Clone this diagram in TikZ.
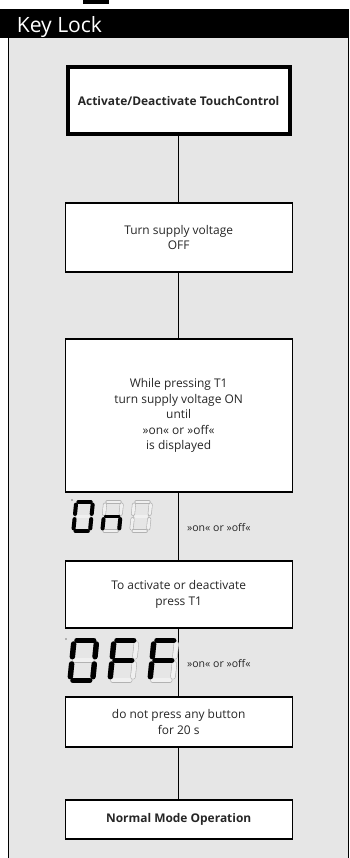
\documentclass[tikz,border=0pt]{standalone}
\usepackage{fontspec}
\setmainfont{Open Sans}
\definecolor{panel}{HTML}{E6E6E6}

% segments of one seven-segment digit, unit box
\newcommand{\segA}{(0.13,1)--(0.87,1)}
\newcommand{\segB}{(1,0.91)--(1,0.59)}
\newcommand{\segC}{(1,0.41)--(1,0.09)}
\newcommand{\segD}{(0.13,0)--(0.87,0)}
\newcommand{\segE}{(0,0.41)--(0,0.09)}
\newcommand{\segF}{(0,0.91)--(0,0.59)}
\newcommand{\segG}{(0.13,0.5)--(0.87,0.5)}
\newcommand{\segN}{(0,0)}

\tikzset{
  seg width/.store in=\segwd, seg width=3pt,
  seg inner/.store in=\seginner, seg inner=2.2pt,
  litseg/.style={line width=\segwd, line cap=round},
  ghostseg/.style={draw=black!30, line width=0.5pt, double=panel!60!white, double distance=\seginner, line cap=round},
  smalldigit/.style={x=0.5cm, y=0.87cm, xslant=0.1, seg width=3.4pt, seg inner=2.4pt},
  bigdigit/.style={x=0.68cm, y=1.2cm, xslant=0.1, seg width=4.6pt, seg inner=3.6pt},
}

\newcommand{\segdigit}[2]{%
  \begin{scope}[#1]
    \foreach \sg in {A,B,C,D,E,F,G} {\draw[ghostseg] \csname seg\sg\endcsname;}
    \foreach \sg in {#2} {\draw[litseg] \csname seg\sg\endcsname;}
  \end{scope}}

\begin{document}
\begin{tikzpicture}[
    stepbox/.style={draw, line width=1pt, fill=white, minimum width=6.81cm, align=center,
      text=black!85, font=\fontsize{10.2}{13.2}\selectfont},
    boldbox/.style={stepbox, font=\fontsize{10.2}{13}\selectfont\bfseries},
    hint/.style={anchor=west, text=black!85, font=\fontsize{9}{11}\selectfont},
    link/.style={line width=0.8pt}]
  \useasboundingbox (0,0) rectangle (10.47,-25.74);

  % frame
  \fill (2.49,0) rectangle (3.27,-0.12);
  \fill (0,-0.28) rectangle (10.47,-1.15);
  \fill[panel] (0.24,-1.15) rectangle (10.44,-25.74);
  \draw[line width=0.7pt] (0.24,-25.74) -- (0.24,-1.15) (10.44,-1.15) -- (10.44,-25.74);
  \node[anchor=base west, text=white, font=\fontsize{18}{21}\selectfont] (title) at (0.38,-0.96) {Key Lock};

  % steps
  \node[boldbox, line width=3.2pt, minimum width=6.66cm, minimum height=2cm] (activate) at (5.36,-3.02) {Activate/Deactivate TouchControl};
  \node[stepbox, minimum height=2.07cm] (supplyoff) at (5.36,-7.125) {Turn supply voltage\\OFF};
  \node[stepbox, minimum height=4.59cm] (supplyon) at (5.36,-12.465) {While pressing T1\\turn supply voltage ON\\until\\»on« or »off«\\is displayed};
  \node[stepbox, minimum height=2.01cm] (toggle) at (5.36,-17.835) {To activate or deactivate\\press T1};
  \node[stepbox, minimum height=1.5cm] (wait) at (5.36,-21.66) {do not press any button\\for 20 s};
  \node[boldbox, minimum height=1.17cm] (normal) at (5.36,-24.585) {Normal Mode Operation};

  \draw[link] (activate) -- (supplyoff);
  \draw[link] (supplyoff) -- (supplyon);
  \draw[link] (supplyon) -- (toggle);
  \draw[link] (toggle) -- (wait);
  \draw[link] (wait) -- (normal);

  % displays
  \fill (2.16,-15.0) circle (0.6pt);
  \segdigit{shift={(2.2,-15.93)}, smalldigit}{A,B,C,D,E,F}
  \segdigit{shift={(3.07,-15.93)}, smalldigit}{C,E,G}
  \segdigit{shift={(3.94,-15.93)}, smalldigit}{N}
  \node[hint] (onhint) at (5.49,-15.84) {»on« or »off«};

  \fill (1.98,-19.17) circle (0.6pt);
  \segdigit{shift={(2.1,-20.41)}, bigdigit}{A,B,C,D,E,F}
  \segdigit{shift={(3.3,-20.41)}, bigdigit}{A,E,F,G}
  \segdigit{shift={(4.5,-20.41)}, bigdigit}{A,E,F,G}
  \node[hint] (offhint) at (5.49,-19.92) {»on« or »off«};
\end{tikzpicture}
\end{document}
